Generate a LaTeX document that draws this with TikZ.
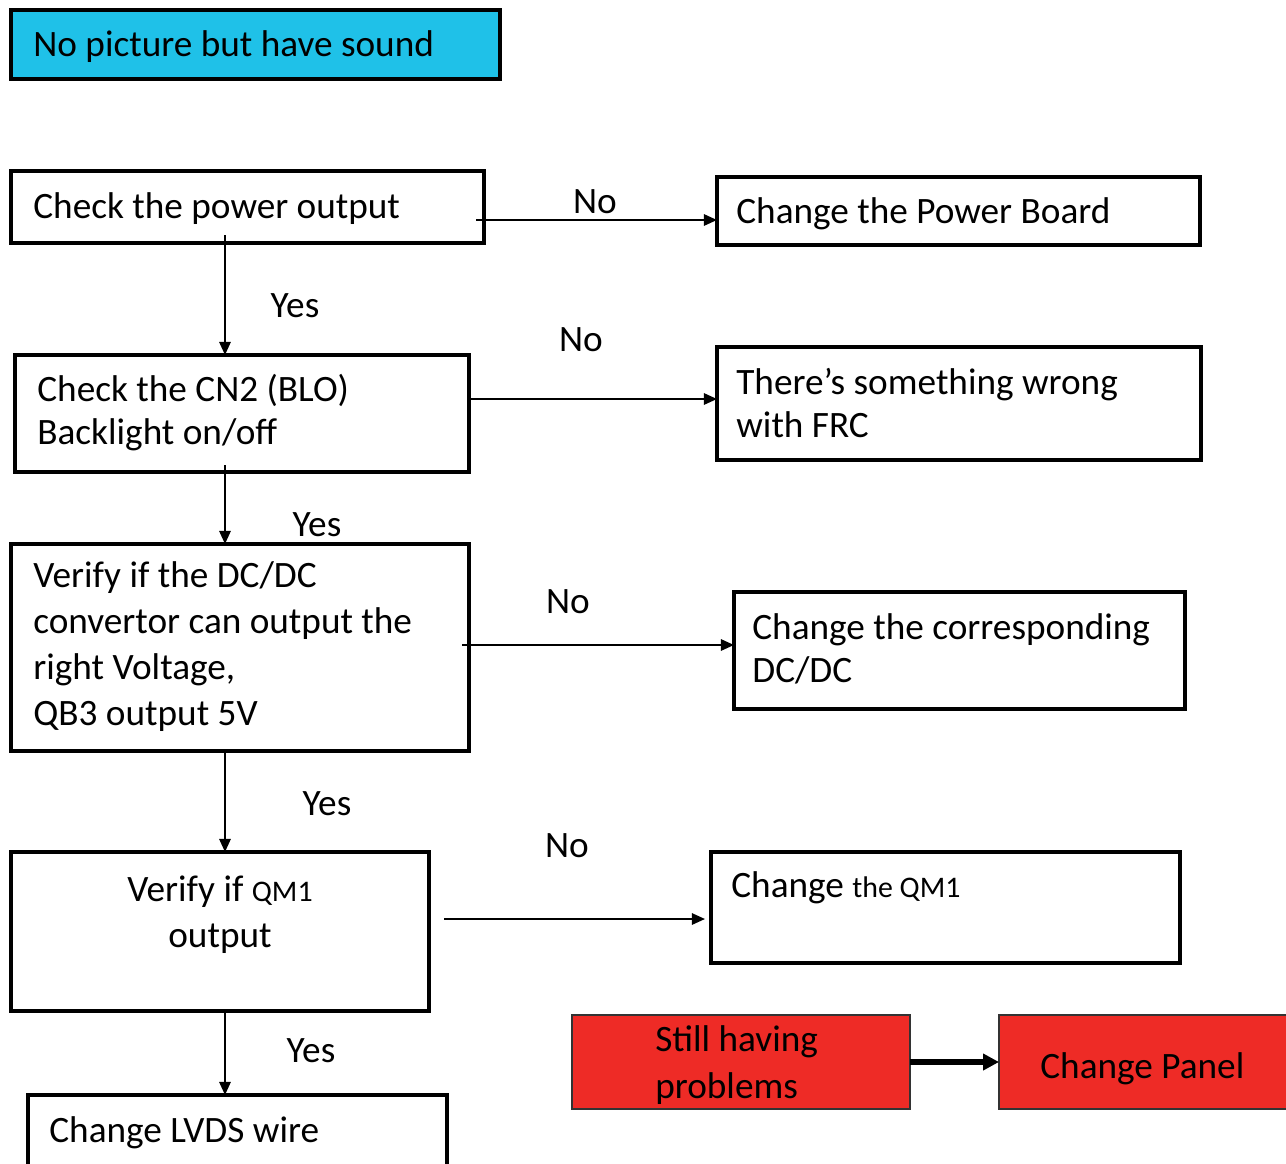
\documentclass[tikz,border=0pt]{standalone}
\usepackage{fontspec}
\setmainfont{Carlito}
\usetikzlibrary{arrows.meta}
\definecolor{cyanbox}{HTML}{1FC1E8}
\definecolor{redbox}{HTML}{EE2B26}
\newcommand\mybox[6]{\node[#6, minimum width={(#4-#2)*0.02cm}, minimum height={(#5-#3)*0.02cm}] (#1) at (#2,#3) {};}
\newcommand\nsp{\spaceskip=0pt\xspaceskip=0pt\relax}
\begin{document}
\begin{tikzpicture}[x=0.02cm,y=-0.02cm,
  box/.style={draw, line width=2.2pt, anchor=north west, inner sep=0pt, outer sep=0pt},
  cbox/.style={box, fill=cyanbox, line width=1.8pt},
  rbox/.style={draw=black!80, fill=redbox, line width=0.9pt, anchor=north west, inner sep=0pt, outer sep=0pt},
  txt/.style={inner sep=0pt, font=\fontsize{21.2}{25}\selectfont},
  mtxt/.style={txt, anchor=base west, text width=#1*0.02cm},
  lbl/.style={txt, anchor=base},
  arr/.style={-{Triangle[length=7.5pt,width=6.5pt]}, line width=1.1pt},
  thick arr/.style={-{Triangle[length=9pt,width=9pt]}, line width=3.2pt}]
\useasboundingbox (0,0) rectangle (1286,1164);
\clip (0,0) rectangle (1286,1164);

% boxes
\mybox{top}{11}{10}{500}{79}{cbox}
\mybox{b1}{11}{171}{484}{243}{box}
\mybox{pb}{717}{177}{1200}{245}{box}
\mybox{b2}{15}{355}{469}{472}{box}
\mybox{frc}{717}{347}{1201}{460}{box}
\mybox{b3}{11}{544}{469}{751}{box}
\mybox{dc}{734}{592}{1185}{709}{box}
\mybox{b4}{11}{852}{429}{1011}{box}
\mybox{qm}{711}{852}{1180}{963}{box}
\mybox{b5}{28}{1095}{447}{1190}{box}
\mybox{still}{572}{1015}{910}{1109}{rbox}
\mybox{panel}{999}{1015}{1310}{1109}{rbox}

% texts
\node[txt, anchor=base west] (ttop) at (33,56) {No picture but have sound};
\node[txt, anchor=base west] (t1) at (33,218) {Check the power output};
\node[txt, anchor=base west] (tpb) at (736,223) {Change the Power Board};
\node[mtxt=430] (t2) at (37,401) {\nsp Check the CN2 (BLO)\\Backlight on/off};
\node[mtxt=460] (tfrc) at (736,394) {\nsp There’s something wrong\\with FRC};
\node[mtxt=430, font=\fontsize{21.2}{26.2}\selectfont] (t3) at (33,587) {\nsp Verify if the DC/DC\\convertor can output the\\right Voltage,\\QB3 output 5V};
\node[mtxt=430] (tdc) at (752,639) {\nsp Change the corresponding\\DC/DC};
\node[txt, anchor=base, text width=380*0.02cm, font=\fontsize{21.2}{26.2}\selectfont] (t4) at (220,901) {\centering\nsp Verify if {\fontsize{17}{20}\selectfont QM1}\\output\par};
\node[txt, anchor=base west] (tqm) at (731,897) {Change {\fontsize{17}{20}\selectfont the QM1}};
\node[txt, anchor=base west] (t5) at (49,1142) {Change LVDS wire};
\node[mtxt=240, font=\fontsize{21.2}{27.3}\selectfont] (tstill) at (655,1051) {\nsp Still having\\problems};
\node[txt, anchor=base west] (tpanel) at (1040,1078) {Change Panel};

% labels
\node[lbl] (n1) at (595,213) {No};
\node[lbl] (y1) at (295,317) {Yes};
\node[lbl] (n2) at (581,351) {No};
\node[lbl] (y2) at (317,536) {Yes};
\node[lbl] (n3) at (568,613) {No};
\node[lbl] (y3) at (327,815) {Yes};
\node[lbl] (n4) at (567,857) {No};
\node[lbl] (y4) at (311,1062) {Yes};

% connectors
\draw[arr] ([xshift=-8*0.02cm]b1.east |- 0,220) -- (pb.west |- 0,220);
\draw[arr] ([yshift=8*0.02cm]b1.south -| 225,0) -- (b2.north -| 225,0);
\draw[arr] (b2.east |- 0,399) -- (frc.west |- 0,399);
\draw[arr] ([yshift=7*0.02cm]b2.south -| 225,0) -- (b3.north -| 225,0);
\draw[arr] ([xshift=-7*0.02cm]b3.east |- 0,645) -- (dc.west |- 0,645);
\draw[arr] (b3.south -| 225,0) -- (b4.north -| 225,0);
\draw[arr] ([xshift=15*0.02cm]b4.east |- 0,919) -- ([xshift=-6*0.02cm]qm.west |- 0,919);
\draw[arr] (b4.south -| 225,0) -- (b5.north -| 225,0);
\draw[thick arr] (still.east) -- (panel.west);
\end{tikzpicture}
\end{document}
